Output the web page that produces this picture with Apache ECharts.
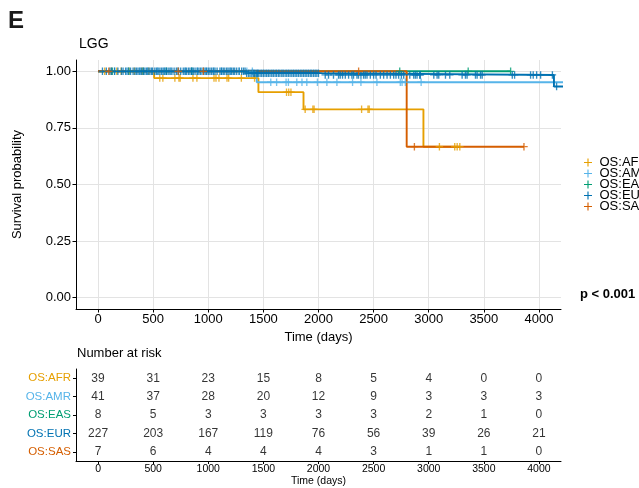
<!DOCTYPE html>
<html><head><meta charset="utf-8">
<script src="https://cdn.jsdelivr.net/npm/echarts@6/dist/echarts.min.js"></script>
<style>html,body{margin:0;padding:0;background:#fff}#c{width:639px;height:488px}</style>
</head><body><div id="c"></div>
<script>
// ---------- data ----------
const groups = ['OS:AFR', 'OS:AMR', 'OS:EAS', 'OS:EUR', 'OS:SAS'];
const groupColors = ['#E69F00', '#56B4E9', '#009E73', '#0072B2', '#D55E00'];
const xTicks = [0, 500, 1000, 1500, 2000, 2500, 3000, 3500, 4000];
const yTicks = [0, 0.25, 0.5, 0.75, 1];

// Kaplan-Meier steps: [time (days), survival from that time on]
const afrSteps = [[0, 1], [509, 0.970], [1455, 0.908], [1864, 0.832], [2952, 0.667], [3282, 0.667]];
const amrSteps = [[0, 1], [1440, 0.952], [4400, 0.952]];
const easSteps = [[0, 1], [3743, 1]];
const eurSteps = [[0, 1], [1340, 0.992], [2010, 0.984], [4136, 0.933], [4400, 0.933]];
const sasSteps = [[0, 1], [2800, 0.667], [3864, 0.667]];

// censoring times (days)
const afrCensor = [60, 120, 170, 210, 280, 330, 400, 460, 560, 588, 697, 734, 745, 861, 897,
  1052, 1070, 1097, 1170, 1185, 1300, 1420, 1710, 1730, 1750, 1879, 1949, 1960, 2391, 2449, 2460,
  3097, 3236, 3258, 3282];
const amrCensor = [150, 260, 380, 450, 540, 600, 660, 720, 790, 850, 900, 940, 980,
  1050, 1120, 1200, 1280, 1350, 1400, 1567, 1620, 1706, 1727, 1803, 1850, 1894, 1990,
  2076, 2167, 2309, 2385, 2530, 2742, 2758, 2788, 2931];
const easCensor = [130, 280, 410, 620, 850, 2737, 3358, 3743];
const eurCensor = [40, 75, 107, 122, 150, 180, 212, 227, 250, 273, 295, 318, 335, 349, 363, 379, 394, 410, 425, 440, 454, 470, 485, 495,
  515, 530, 545, 561, 576, 590, 606, 620, 636, 652, 670, 690, 710, 730, 750, 773, 790, 803, 820, 834, 850, 864, 880, 900, 915, 930, 955, 970, 985,
  1000, 1015, 1030, 1045, 1061, 1080, 1106, 1121, 1136, 1150, 1167, 1180, 1197, 1212, 1227, 1240, 1258, 1280, 1303, 1320, 1334, 1348, 1365, 1379, 1395, 1409, 1420, 1433, 1445, 1455, 1470, 1485,
  1500, 1515, 1530, 1545, 1560, 1576, 1590, 1606, 1620, 1636, 1650, 1667, 1680, 1697, 1712, 1727, 1742, 1758, 1773, 1788, 1803, 1818, 1834, 1849, 1864, 1879, 1894, 1909, 1925, 1939, 1955, 1970, 1985, 2000,
  2061, 2091, 2136, 2182, 2197, 2218, 2243, 2273, 2303, 2318, 2349, 2363, 2385, 2409, 2424, 2440, 2470,
  2500, 2522, 2561, 2591, 2622, 2652, 2682, 2703, 2727, 2752, 2773, 2828, 2864, 2879, 2894, 2918, 2924,
  3046, 3076, 3091, 3152, 3191, 3303, 3333, 3348, 3424, 3439, 3470, 3485, 3758, 3779, 3924, 3948, 3979, 4015, 4122, 4160];
const sasCensor = [97, 727, 955, 2364, 2870, 3864];

// number at risk at xTicks
const riskAFR = [39, 31, 23, 15, 8, 5, 4, 0, 0];
const riskAMR = [41, 37, 28, 20, 12, 9, 3, 3, 3];
const riskEAS = [8, 5, 3, 3, 3, 3, 2, 1, 0];
const riskEUR = [227, 203, 167, 119, 76, 56, 39, 26, 21];
const riskSAS = [7, 6, 4, 4, 4, 3, 1, 1, 0];

const pText = 'p < 0.001';

// ---------- build ----------
const allSteps = [afrSteps, amrSteps, easSteps, eurSteps, sasSteps];
const allCensor = [afrCensor, amrCensor, easCensor, eurCensor, sasCensor];
const allRisk = [riskAFR, riskAMR, riskEAS, riskEUR, riskSAS];

function survAt(steps, t) {
  let s = steps[0][1];
  for (const st of steps) { if (st[0] <= t) s = st[1]; }
  return s;
}

const FONT = '"Liberation Sans", Arial, Helvetica, sans-serif';
const plusPath = 'path://M0,4.3h10v1.4h-10zM4.3,0h1.4v10h-1.4z';
const censorPath = 'path://M0,4.2h10v1.6h-10zM4.1,0h1.8v10h-1.8z';

const series = [];
groups.forEach((g, i) => {
  series.push({
    name: g, type: 'line', xAxisIndex: 0, yAxisIndex: 0,
    step: 'end', showSymbol: false, symbol: 'none', clip: true,
    data: allSteps[i],
    lineStyle: { color: groupColors[i], width: 1.9 },
    itemStyle: { color: groupColors[i] },
    z: 2
  });
});
groups.forEach((g, i) => {
  series.push({
    name: g + ' censor', type: 'scatter', xAxisIndex: 0, yAxisIndex: 0,
    symbol: censorPath, symbolSize: 7.5, clip: true,
    data: allCensor[i].map(t => [t, survAt(allSteps[i], t)]),
    itemStyle: { color: groupColors[i] },
    z: 3
  });
});
groups.forEach((g, i) => {
  series.push({
    name: g + ' risk', type: 'scatter', xAxisIndex: 1, yAxisIndex: 1,
    symbolSize: 1, itemStyle: { color: 'rgba(0,0,0,0)' },
    data: xTicks.map((t, k) => [t, g, allRisk[i][k]]),
    label: { show: true, position: 'inside', formatter: p => String(p.data[2]), fontSize: 12, color: '#000', fontFamily: FONT }
  });
});

const option = {
  animation: false,
  textStyle: { fontFamily: FONT },
  grid: [
    { left: 76, top: 60, width: 485, height: 249 },
    { left: 76, top: 369, width: 485, height: 92 }
  ],
  xAxis: [
    {
      gridIndex: 0, type: 'value', min: -200, max: 4200,
      name: 'Time (days)', nameLocation: 'middle', nameGap: 21,
      nameTextStyle: { fontSize: 13, color: '#000' },
      axisLine: { show: true, onZero: false, lineStyle: { color: '#000', width: 1 } },
      axisTick: { show: true, customValues: xTicks, length: 3.5, lineStyle: { color: '#000' } },
      axisLabel: { customValues: xTicks, fontSize: 13, color: '#000', margin: 4, formatter: v => String(v) },
      splitLine: { show: true, lineStyle: { color: '#e3e3e3', width: 1 } }
    },
    {
      gridIndex: 1, type: 'value', min: -200, max: 4200,
      name: 'Time (days)', nameLocation: 'middle', nameGap: 15,
      nameTextStyle: { fontSize: 10.5, color: '#000' },
      axisLine: { show: true, onZero: false, lineStyle: { color: '#000', width: 1 } },
      axisTick: { show: true, customValues: xTicks, length: 3, lineStyle: { color: '#000' } },
      axisLabel: { customValues: xTicks, fontSize: 10.5, color: '#000', margin: 3, formatter: v => String(v) },
      splitLine: { show: false }
    }
  ],
  yAxis: [
    {
      gridIndex: 0, type: 'value', min: -0.05, max: 1.05,
      name: 'Survival probability', nameLocation: 'middle', nameGap: 52,
      nameTextStyle: { fontSize: 13, color: '#000' },
      axisLine: { show: true, onZero: false, lineStyle: { color: '#000', width: 1 } },
      axisTick: { show: true, customValues: yTicks, length: 3.5, lineStyle: { color: '#000' } },
      axisLabel: { customValues: yTicks, fontSize: 13, color: '#000', margin: 5, formatter: v => v.toFixed(2) },
      splitLine: { show: true, lineStyle: { color: '#e3e3e3', width: 1 } }
    },
    {
      gridIndex: 1, type: 'category', data: groups, inverse: true,
      axisLine: { show: true, onZero: false, lineStyle: { color: '#000', width: 1 } },
      axisTick: { show: true, alignWithLabel: true, length: 3, lineStyle: { color: '#000' } },
      axisLabel: { fontSize: 11.5, margin: 5, color: (v, idx) => groupColors[groups.indexOf(v)] },
      splitLine: { show: false }
    }
  ],
  legend: {
    orient: 'vertical', left: 579, top: 151,
    itemWidth: 13, itemHeight: 8, itemGap: -2,
    icon: plusPath,
    textStyle: { fontSize: 13, color: '#000', lineHeight: 11.1, padding: [0, 0, 0, 0] },
    data: groups
  },
  graphic: [
    { type: 'text', left: 8, top: 9, style: { text: 'E', font: 'bold 24px ' + FONT, fill: '#1a1a1a' } },
    { type: 'text', left: 79, top: 37, style: { text: 'LGG', font: '14px ' + FONT, fill: '#000' } },
    { type: 'text', left: 77, top: 347, style: { text: 'Number at risk', font: '13px ' + FONT, fill: '#000' } },
    { type: 'text', left: 580, top: 288, style: { text: pText, font: 'bold 13px ' + FONT, fill: '#000' } }
  ],
  series: series
};

const chart = echarts.init(document.getElementById('c'), null, { renderer: 'canvas' });
chart.setOption(option);
</script>
</body></html>
